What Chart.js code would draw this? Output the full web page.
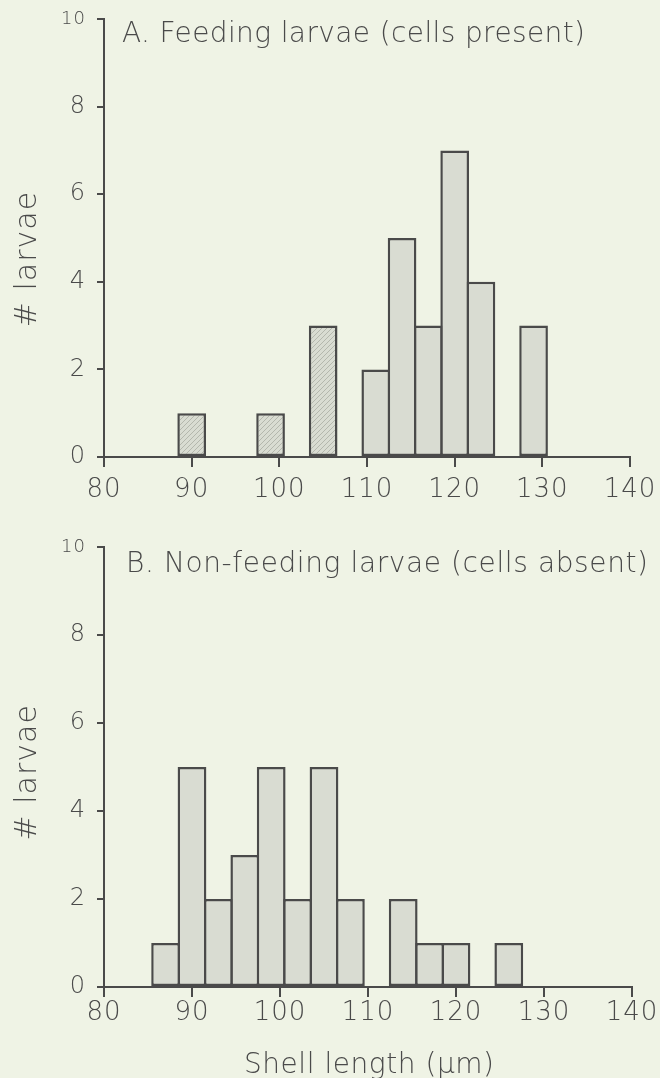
<!DOCTYPE html>
<html>
<head>
<meta charset="utf-8">
<script src="https://cdn.jsdelivr.net/npm/chart.js@4.4.0/dist/chart.umd.min.js"></script>
<style>
  body { margin: 0; background: #eff3e5; }
  #wrap { position: relative; width: 660px; height: 1078px; background: #eff3e5; overflow: hidden; }
  .box { position: absolute; left: 0; width: 660px; }
  #boxA { top: 0; height: 520px; }
  #boxB { top: 520px; height: 558px; }
  .panel {
    position: absolute; white-space: nowrap;
    font-family: "DejaVu Sans", sans-serif; font-weight: 200;
    font-size: 28px; color: #4a4a4a; line-height: 1;
  }
  #titleA { left: 122px; top: 19px; }
  #titleB { left: 126px; top: 549px; }
  #xTitle { left: 244px; top: 1050px; }
</style>
</head>
<body>
<div id="wrap">
  <div class="box" id="boxA"><canvas id="chartA"></canvas></div>
  <div class="box" id="boxB"><canvas id="chartB"></canvas></div>
  <div class="panel" id="titleA">A. Feeding larvae (cells present)</div>
  <div class="panel" id="titleB">B. Non-feeding larvae (cells absent)</div>
  <div class="panel" id="xTitle">Shell length (&mu;m)</div>
</div>
<script>
// ---- data (bins are 3 µm wide, given by their centre) ----
const binsA = [90, 99, 105, 111, 114, 117, 120, 123, 129];
const countsA = [1, 1, 3, 2, 5, 3, 7, 4, 3];
const hatchedBinsA = [90, 99, 105];

const binsB = [87, 90, 93, 96, 99, 102, 105, 108, 114, 117, 120, 126];
const countsB = [1, 5, 2, 3, 5, 2, 5, 2, 2, 1, 1, 1];

const xTicks = [80, 90, 100, 110, 120, 130, 140];
const yTicks = [0, 2, 4, 6, 8, 10];

const ink = '#4a4a4a';
const barFill = '#d9dcd2';
const fontFamily = '"DejaVu Sans", sans-serif';

// stretch the text labels to the width they have in the figure
function fitWidth(id, w) {
  const el = document.getElementById(id);
  const n = el.textContent.length - 1;
  el.style.letterSpacing = ((w - el.getBoundingClientRect().width) / n) + 'px';
}
fitWidth('titleA', 463);
fitWidth('titleB', 522);
fitWidth('xTitle', 250);

// light diagonal hatching for the first bars of panel A
function hatch() {
  const c = document.createElement('canvas');
  c.width = 5; c.height = 5;
  const g = c.getContext('2d');
  g.fillStyle = barFill;
  g.fillRect(0, 0, 5, 5);
  g.strokeStyle = '#b4b7ad';
  g.lineWidth = 1;
  g.beginPath();
  g.moveTo(0, 5); g.lineTo(5, 0);
  g.stroke();
  return g.createPattern(c, 'repeat');
}

const spacing = {
  id: 'spacing',
  beforeDraw(chart) { chart.ctx.letterSpacing = '1px'; }
};

function makeChart(id, bins, counts, o) {
  const pattern = hatch();
  const colors = bins.map(b => (o.hatched || []).includes(b) ? pattern : barFill);
  return new Chart(document.getElementById(id), {
    type: 'bar',
    data: {
      datasets: [{
        data: bins.map((b, i) => ({ x: b, y: counts[i] })),
        backgroundColor: colors,
        borderColor: ink,
        borderWidth: 2.5,
        borderSkipped: false,
        barPercentage: 1.09,
        categoryPercentage: 1
      }]
    },
    plugins: [spacing],
    options: {
      responsive: true,
      maintainAspectRatio: false,
      animation: false,
      layout: { padding: { left: 0, right: o.right, top: o.top, bottom: 0 } },
      plugins: { legend: { display: false }, tooltip: { enabled: false } },
      scales: {
        x: {
          type: 'linear',
          min: 80, max: 140,
          offset: false,
          afterBuildTicks: s => { s.ticks = xTicks.map(v => ({ value: v })); },
          afterFit: s => { s.height = o.xHeight; s.paddingLeft = 0; s.paddingRight = 0; },
          ticks: {
            color: ink, padding: o.xPad, maxRotation: 0, autoSkip: false,
            font: { family: fontFamily, size: 26, weight: 200 }
          },
          grid: { offset: false, drawOnChartArea: false, drawTicks: true, tickLength: 10, color: ink, lineWidth: 2 },
          border: { display: true, color: ink, width: 2 }
        },
        y: {
          min: 0, max: 10,
          afterBuildTicks: s => { s.ticks = yTicks.map(v => ({ value: v })); },
          afterFit: s => { s.width = 104; s.paddingTop = 0; s.paddingBottom = 0; },
          ticks: {
            color: ink, padding: 11,
            font: ctx => ({ family: fontFamily, size: ctx.tick && ctx.tick.value === 10 ? 18 : 24, weight: 200 })
          },
          grid: { drawOnChartArea: false, drawTicks: true, tickLength: 7, color: ink, lineWidth: 2 },
          border: { display: true, color: ink, width: 2 },
          title: {
            display: true, text: o.yTitle, color: ink,
            padding: { top: 10, bottom: 0 },
            font: { family: fontFamily, size: 30, weight: 200 }
          }
        }
      }
    }
  });
}

// the y title in panel A sits a little below the middle of the axis
makeChart('chartA', binsA, countsA, {
  hatched: hatchedBinsA, top: 19, right: 30, xHeight: 63, xPad: 8,
  yTitle: '# larvae\u00a0\u00a0\u00a0\u00a0'
});
makeChart('chartB', binsB, countsB, {
  top: 27, right: 28, xHeight: 91, xPad: 1,
  yTitle: '# larvae\u00a0'
});
</script>
</body>
</html>
